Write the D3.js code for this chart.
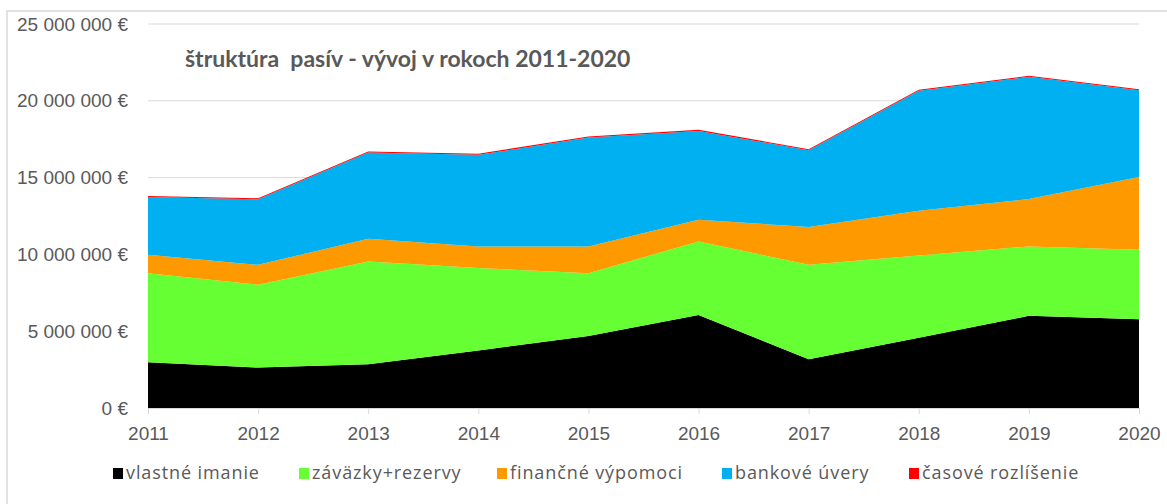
<!DOCTYPE html>
<html lang="sk">
<head>
  <meta charset="UTF-8">
  <title>štruktúra pasív</title>
  <script src="https://d3js.org/d3.v7.min.js"></script>
  <style>
    body { margin: 0; background: #fff; font-family: Lato, "Open Sans", sans-serif; }
    .tick text { fill: #595959; }
    .legend text { fill: #595959; font-family: "Open Sans", sans-serif; font-size: 18px; letter-spacing: 0.9px; }
  </style>
</head>
<body>
  <svg width="1167" height="504"></svg>
  <script>
    // hodnoty v eurách, odčítané z grafu
    const years = [2011, 2012, 2013, 2014, 2015, 2016, 2017, 2018, 2019, 2020];
    const vlastneImanie   = [2980000, 2630000, 2850000, 3740000, 4690000, 6060000, 3170000, 4580000, 6000000, 5780000];
    const zavazky         = [5800000, 5390000, 6690000, 5370000, 4090000, 4780000, 6150000, 5350000, 4520000, 4520000];
    const financneVypom   = [1190000, 1300000, 1480000, 1410000, 1740000, 1420000, 2460000, 2910000, 3080000, 4740000];
    const bankoveUvery    = [3770000, 4270000, 5610000, 5960000, 7090000, 5780000, 5000000, 7810000, 7960000, 5650000];
    const casoveRozlis    = [70000, 70000, 70000, 70000, 70000, 70000, 70000, 70000, 70000, 70000];
    const yTicks = [0, 5000000, 10000000, 15000000, 20000000, 25000000];

    const seriesNames = ["vlastné imanie", "záväzky+rezervy", "finančné výpomoci", "bankové úvery", "časové rozlíšenie"];
    const seriesValues = [vlastneImanie, zavazky, financneVypom, bankoveUvery, casoveRozlis];
    const colors = ["#000000", "#66ff33", "#ff9900", "#00b0f0", "#ff0000"];

    const rows = years.map((y, i) => {
      const r = { year: y };
      seriesNames.forEach((n, k) => r[n] = seriesValues[k][i]);
      return r;
    });

    const svg = d3.select("svg");
    const margin = { top: 24, left: 148, right: 28, bottom: 96 };
    const W = +svg.attr("width"), H = +svg.attr("height");

    // rámik grafu
    svg.append("rect")
      .attr("x", 7).attr("y", 11)
      .attr("width", W + 20).attr("height", H + 20)
      .attr("fill", "none").attr("stroke", "#d9d9d9").attr("stroke-width", 1.5);

    const x = d3.scaleLinear().domain([2011, 2020]).range([margin.left, W - margin.right]);
    const y = d3.scaleLinear().domain([0, 25000000]).range([H - margin.bottom, margin.top]);

    const fmt = v => d3.format(",")(v).replace(/,/g, " ") + " €";

    // mriežka
    svg.append("g")
      .selectAll("line")
      .data(yTicks.slice(1))
      .join("line")
      .attr("x1", x(2011)).attr("x2", x(2020))
      .attr("y1", d => y(d)).attr("y2", d => y(d))
      .attr("stroke", "#d9d9d9").attr("stroke-width", 1);

    const stack = d3.stack().keys(seriesNames);
    const layers = stack(rows);

    const area = d3.area()
      .x(d => x(d.data.year))
      .y0(d => y(d[0]))
      .y1(d => y(d[1]));

    svg.append("g")
      .selectAll("path")
      .data(layers)
      .join("path")
      .attr("fill", (d, i) => colors[i])
      .attr("d", area);

    // osi
    const yAxis = d3.axisLeft(y).tickValues(yTicks).tickFormat(fmt).tickSize(0).tickPadding(20);
    svg.append("g")
      .attr("transform", `translate(${margin.left},0)`)
      .call(yAxis)
      .call(g => g.select(".domain").remove())
      .selectAll("text")
      .style("font-size", "19px");

    const xAxis = d3.axisBottom(x).tickValues(years).tickFormat(d3.format("d")).tickSize(6).tickSizeOuter(0).tickPadding(13);
    svg.append("g")
      .attr("transform", `translate(0,${y(0)})`)
      .call(xAxis)
      .call(g => g.select(".domain").attr("stroke", "#d9d9d9"))
      .call(g => g.selectAll(".tick line").attr("stroke", "#d9d9d9"))
      .selectAll("text")
      .style("font-size", "19px");

    // nadpis
    svg.append("text")
      .attr("x", 185).attr("y", 67)
      .attr("fill", "#595959")
      .style("font-size", "23px")
      .style("font-weight", "bold")
      .style("white-space", "pre")
      .text("štruktúra  pasív - vývoj v rokoch 2011-2020");

    // legenda
    const legendX = [113, 299, 497, 722, 909];
    const legend = svg.append("g").attr("class", "legend");
    seriesNames.forEach((n, i) => {
      const g = legend.append("g").attr("transform", `translate(${legendX[i]},468)`);
      g.append("rect").attr("width", 10).attr("height", 11).attr("fill", colors[i]);
      g.append("text").attr("x", 13).attr("y", 11).text(n);
    });
  </script>
</body>
</html>
